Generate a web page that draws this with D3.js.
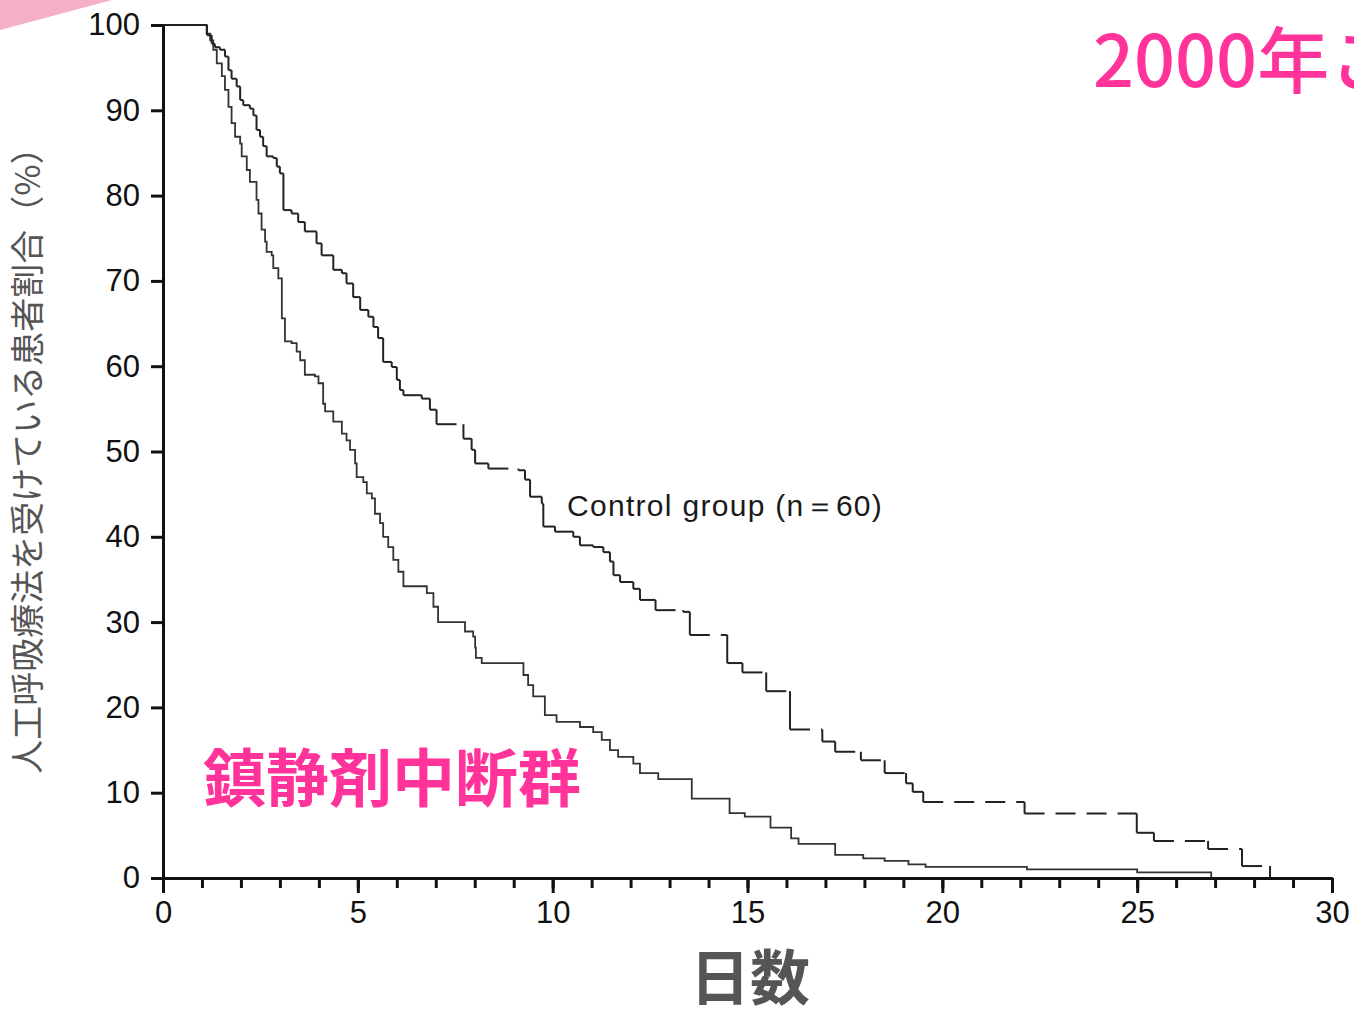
<!DOCTYPE html>
<html lang="ja">
<head>
<meta charset="UTF-8">
<title>人工呼吸療法を受けている患者割合</title>
<script src="https://d3js.org/d3.v7.min.js"></script>
<style>
  body { margin: 0; background: #fff; }
  svg { display: block; }
  .tick text { font-family: "Liberation Sans", Arial, sans-serif; }
</style>
</head>
<body>
<svg id="chart" width="1354" height="1010"></svg>
<script>
// Kaplan-Meier style curves (day, % still ventilated)
const ctrlDays = [0, 1.13, 1.25, 1.33, 1.46, 1.59, 1.68, 1.76, 1.89, 1.98, 2.06, 2.23, 2.32, 2.40, 2.49, 2.57, 2.66, 2.83, 2.92, 3.00,
  3.09, 3.30, 3.47, 3.64, 3.94, 4.07, 4.37, 4.59, 4.71, 4.88, 5.06, 5.27, 5.40, 5.52, 5.65, 5.87, 6.00, 6.08, 6.17,
  6.64, 6.85, 7.02, 7.71, 7.92, 8.01, 8.35, 9.12, 9.29, 9.42, 9.72, 9.76, 10.06, 10.53, 10.70, 11.04, 11.30, 11.47,
  11.56, 11.73, 12.07, 12.24, 12.64, 13.35, 13.52, 14.48, 14.87, 15.48, 16.09, 16.92, 17.25, 17.91, 18.52, 19.07,
  19.24, 19.51, 22.11, 24.99, 25.43, 26.82, 27.69, 28.41];
const ctrlPct = [100, 98.8, 97.8, 97.4, 97.1, 96.3, 94.7, 93.7, 92.8, 91.2, 90.6, 90.2, 89.4, 87.7, 86.9, 85.8, 84.6, 84.4, 83.4, 82.6,
  78.3, 77.9, 76.9, 75.8, 74.4, 73.0, 71.3, 70.9, 69.7, 68.1, 66.6, 65.8, 64.6, 63.3, 60.5, 59.9, 58.4, 57.2, 56.6,
  56.2, 54.9, 53.2, 51.5, 50.2, 48.6, 48.0, 47.8, 46.7, 44.7, 43.9, 41.2, 40.6, 40.0, 39.0, 38.8, 38.2, 37.1,
  35.5, 34.7, 33.9, 32.6, 31.4, 31.2, 28.5, 25.2, 24.1, 21.9, 17.4, 16.0, 14.8, 13.8, 12.3, 11.1,
  10.1, 8.9, 7.55, 5.3, 4.35, 3.4, 1.4, 0];

const sedDays = [0, 1.12, 1.21, 1.29, 1.38, 1.51, 1.59, 1.68, 1.76, 1.85, 1.98, 2.02, 2.15, 2.23, 2.40, 2.45, 2.53, 2.62, 2.66, 2.79,
  2.83, 2.96, 3.05, 3.13, 3.30, 3.43, 3.52, 3.64, 3.90, 3.99, 4.11, 4.16, 4.37, 4.59, 4.71, 4.80, 4.93, 4.97, 5.14,
  5.23, 5.36, 5.44, 5.57, 5.65, 5.78, 5.91, 6.04, 6.17, 6.77, 6.94, 7.06, 7.75, 7.96, 8.01, 8.03, 8.18, 9.25, 9.37,
  9.50, 9.80, 10.10, 10.70, 11.04, 11.26, 11.47, 11.68, 12.07, 12.24, 12.71, 13.57, 14.54, 14.93, 15.59, 16.12,
  16.31, 17.25, 17.97, 18.52, 19.13, 19.57, 22.17, 25.00, 26.90];
const sedPct = [100, 99.0, 98.2, 97.1, 95.5, 94.0, 92.4, 90.4, 88.5, 86.9, 86.1, 84.6, 83.0, 81.6, 79.5, 77.9, 76.0, 74.6, 73.4, 73.0,
  71.5, 70.3, 65.6, 62.9, 62.7, 61.7, 60.7, 59.0, 58.8, 58.0, 55.6, 54.7, 53.5, 52.1, 51.3, 50.2, 48.6, 47.0, 46.4,
  45.1, 44.5, 42.7, 41.6, 40.0, 38.8, 37.3, 35.9, 34.2, 33.4, 31.8, 30.0, 28.9, 28.3, 27.0, 25.8, 25.2, 23.8, 22.6,
  21.3, 19.1, 18.3, 17.7, 17.1, 16.2, 15.0, 14.2, 13.4, 12.3, 11.6, 9.3, 7.6, 7.2, 5.9, 4.65,
  4.0, 2.7, 2.3, 2.0, 1.6, 1.3, 1.0, 0.65, 0];

const xTickLabels = [0, 5, 10, 15, 20, 25, 30];
const xMinorTicks = d3.range(0, 31);
const yTickLabels = [0, 10, 20, 30, 40, 50, 60, 70, 80, 90, 100];

const svg = d3.select("#chart");
const x = d3.scaleLinear().domain([0, 30]).range([163, 1332]);
const y = d3.scaleLinear().domain([0, 100]).range([878, 25]);

// pink corner from the slide behind the chart
svg.append("polygon")
  .attr("points", "0,0 112,0 0,30")
  .attr("fill", "#f4afc9");

// intervention group: plain step line
const sed = d3.zip(sedDays, sedPct);
svg.append("path")
  .datum(sed)
  .attr("fill", "none")
  .attr("stroke", "#333")
  .attr("stroke-width", 1.8)
  .attr("d", d3.line().x(d => x(d[0])).y(d => y(d[1])).curve(d3.curveStepAfter));

// control group: verticals solid, later horizontals broken into dashes
const ctrl = d3.zip(ctrlDays, ctrlPct);
const g = svg.append("g").attr("stroke", "#222").attr("stroke-width", 2).attr("fill", "none");
for (let i = 0; i < ctrl.length - 1; i++) {
  const [t0, v0] = ctrl[i];
  const [t1, v1] = ctrl[i + 1];
  g.append("line")
    .attr("x1", x(t0)).attr("x2", x(t1))
    .attr("y1", y(v0)).attr("y2", y(v0))
    .attr("stroke-dasharray", t0 > 6.2 ? "20,11" : null);
  g.append("line")
    .attr("x1", x(t1)).attr("x2", x(t1))
    .attr("y1", y(v0)).attr("y2", y(v1));
}

// axes
svg.append("g")
  .attr("transform", `translate(${x(0)},0)`)
  .call(d3.axisLeft(y).tickValues(yTickLabels).tickSize(12).tickSizeOuter(0).tickPadding(11));

svg.append("g")
  .attr("transform", `translate(0,${y(0)})`)
  .call(d3.axisBottom(x).tickValues(xMinorTicks).tickSize(10).tickSizeOuter(0).tickFormat(""));

svg.append("g")
  .attr("transform", `translate(0,${y(0)})`)
  .call(d3.axisBottom(x).tickValues(xTickLabels).tickSize(15).tickSizeOuter(0).tickPadding(8));

svg.selectAll(".domain, .tick line").attr("stroke", "#111").attr("stroke-width", 3);
svg.selectAll(".tick text").attr("font-size", 31).attr("fill", "#111");

// labels
svg.append("text")
  .attr("x", 567).attr("y", 516)
  .attr("font-family", "Liberation Sans, Arial, sans-serif")
  .attr("font-size", 30)
  .attr("letter-spacing", 1.3)
  .attr("fill", "#1a1a1a")
  .text("Control group (n＝60)");

svg.append("text")
  .attr("transform", "translate(40,452) rotate(-90)")
  .attr("text-anchor", "middle")
  .attr("font-family", "Noto Sans CJK JP")
  .attr("font-size", 34)
  .attr("fill", "#555")
  .text("人工呼吸療法を受けている患者割合（%）");

svg.append("text")
  .attr("x", 750).attr("y", 1000)
  .attr("text-anchor", "middle")
  .attr("font-family", "Noto Sans CJK JP")
  .attr("font-weight", "bold")
  .attr("font-size", 60)
  .attr("fill", "#555")
  .text("日数");

svg.append("text")
  .attr("x", 203).attr("y", 801)
  .attr("font-family", "Noto Sans CJK JP")
  .attr("font-weight", "bold")
  .attr("font-size", 63)
  .attr("fill", "#ff3399")
  .text("鎮静剤中断群");

svg.append("text")
  .attr("x", 1093).attr("y", 87)
  .attr("font-family", "Noto Sans CJK JP")
  .attr("font-weight", 500)
  .attr("font-size", 72)
  .attr("fill", "#ff3399")
  .text("2000年こ");
</script>
</body>
</html>
